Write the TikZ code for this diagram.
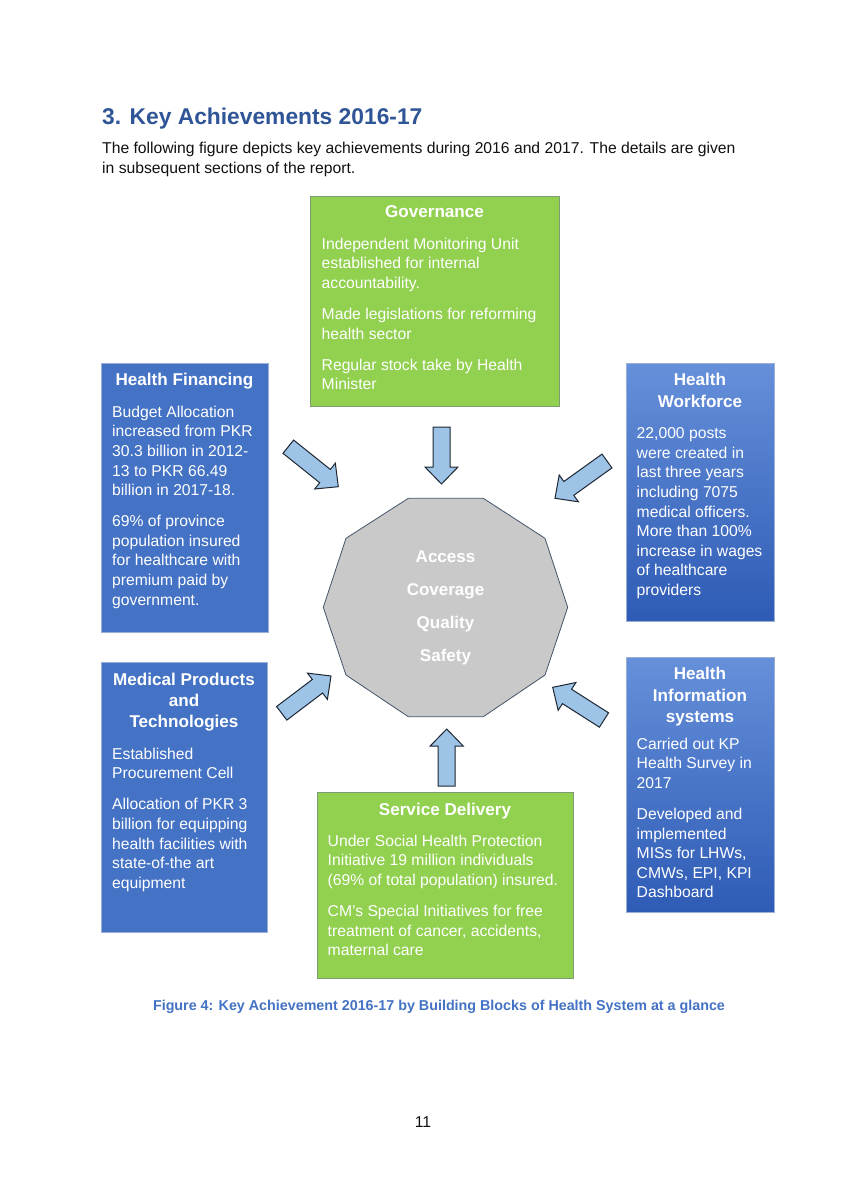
\documentclass[tikz,border=0pt]{standalone}
\usepackage{fontspec}
\setmainfont{Liberation Sans}
\usetikzlibrary{calc}
\definecolor{titleblue}{HTML}{2F5597}
\definecolor{capblue}{HTML}{4472C4}
\definecolor{boxblue}{HTML}{4472C4}
\definecolor{gradtop}{HTML}{6690DA}
\definecolor{gradbot}{HTML}{2E5BB5}
\definecolor{boxgreen}{HTML}{92D050}
\definecolor{greenline}{HTML}{7E9B74}
\definecolor{blueline}{HTML}{9AAFD6}
\definecolor{octfill}{HTML}{C9C9C9}
\definecolor{octline}{HTML}{44546A}
\definecolor{arrfill}{HTML}{9DC3E6}
\definecolor{arrline}{HTML}{1E2733}
\definecolor{bodyblack}{HTML}{111111}
\newcommand\topstrut{\rule{0pt}{14pt}}
\newcommand\blockarrow[3]{%
  \path ($(#2)!17pt!(#1)$) coordinate (#3);
  \draw[blkarr] ($(#1)!8.5pt!90:(#2)$) -- ($(#3)!8.5pt!-90:(#1)$) -- ($(#3)!16.5pt!-90:(#1)$) -- (#2)
     -- ($(#3)!16.5pt!90:(#1)$) -- ($(#3)!8.5pt!90:(#1)$) -- ($(#1)!8.5pt!-90:(#2)$) -- cycle;}
\tikzset{
  boxbase/.style={anchor=north west, inner sep=0pt, outer sep=0pt},
  greenbox/.style={boxbase, draw=greenline, fill=boxgreen, line width=0.8pt},
  bluebox/.style={boxbase, draw=blueline, fill=boxblue, line width=0.6pt},
  gradbox/.style={boxbase, draw=blueline, top color=gradtop, bottom color=gradbot, line width=0.6pt},
  bodytxt/.style={text=white, font=\fontsize{15.7}{19.6}\selectfont, align=left, inner sep=0pt, anchor=north west},
  headtxt/.style={text=white, font=\fontsize{17.1}{21.3}\selectfont\bfseries, align=center, inner sep=0pt, anchor=north},
  coretxt/.style={text=white, font=\fontsize{17}{20}\selectfont\bfseries, inner sep=0pt, anchor=base},
  blkarr/.style={draw=arrline, fill=arrfill, line width=1pt, line join=miter},
}
\begin{document}
\begin{tikzpicture}[x=1pt, y=-1pt]
\useasboundingbox (0,0) rectangle (852,1200);
\fill[white] (0,0) rectangle (852,1200);

% page heading and intro (north anchors sit 14pt above first baseline)
\node[anchor=base west, inner sep=0pt, text=titleblue, font=\fontsize{22.8}{26}\selectfont\bfseries] (heading) at (102,124) {3. Key Achievements 2016-17};
\node[anchor=north west, inner sep=0pt, text=bodyblack, align=left, font=\fontsize{15.7}{20}\selectfont] (intro) at (102,153-14)
  {\topstrut The following figure depicts key achievements during 2016 and 2017. The details are given\\in subsequent sections of the report.};

% central decagon
\draw[fill=octfill, draw=octline, line width=0.8pt]
  (408.3,498.3) -- (483.3,498.3) -- (545,538.3) -- (567.7,607.3) -- (545,675)
  -- (483.3,716.7) -- (408.3,716.7) -- (346,675) -- (323.3,607.3) -- (346,538.3) -- cycle;
\coordinate (core) at (445.5,607.5);
\node[coretxt] (c1) at (445.5,562) {Access};
\node[coretxt] (c2) at (445.5,595) {Coverage};
\node[coretxt] (c3) at (445.5,628) {Quality};
\node[coretxt] (c4) at (445.5,661) {Safety};

% Governance
\node[greenbox, minimum width=249pt, minimum height=210pt] (gov) at (310,196) {};
\node[headtxt] (govh) at (434.5,217-14) {\topstrut Governance};
\node[bodytxt] (govb) at (321.5,249-14) {\topstrut Independent Monitoring Unit\\established for internal\\accountability.\\[11.5pt]Made legislations for reforming\\health sector\\[11.5pt]Regular stock take by Health\\Minister};

% Health Financing
\node[bluebox, minimum width=167pt, minimum height=269pt] (fin) at (101,363) {};
\node[headtxt] (finh) at (184.5,385-14) {\topstrut Health Financing};
\node[bodytxt] (finb) at (112,417-14) {\topstrut Budget Allocation\\increased from PKR\\30.3 billion in 2012-\\13 to PKR 66.49\\billion in 2017-18.\\[11.5pt]69\% of province\\population insured\\for healthcare with\\premium paid by\\government.};

% Health Workforce
\node[gradbox, minimum width=148pt, minimum height=258pt] (wf) at (626,363) {};
\node[headtxt] (wfh) at (700,385.5-14) {\topstrut Health\\Workforce};
\node[bodytxt] (wfb) at (636.5,438.5-14) {\topstrut 22,000 posts\\were created in\\last three years\\including 7075\\medical officers.\\More than 100\%\\increase in wages\\of healthcare\\providers};

% Medical Products and Technologies
\node[bluebox, minimum width=166pt, minimum height=270pt] (med) at (101,662) {};
\node[headtxt] (medh) at (184,685-14) {\topstrut Medical Products\\and\\Technologies};
\node[bodytxt] (medb) at (112,759-14) {\topstrut Established\\Procurement Cell\\[11.5pt]Allocation of PKR 3\\billion for equipping\\health facilities with\\state-of-the art\\equipment};

% Health Information systems
\node[gradbox, minimum width=148pt, minimum height=255pt] (his) at (626,657) {};
\node[headtxt] (hish) at (700,679.5-14) {\topstrut Health\\Information\\systems};
\node[bodytxt] (hisb) at (636.5,749-14) {\topstrut Carried out KP\\Health Survey in\\2017\\[11.5pt]Developed and\\implemented\\MISs for LHWs,\\CMWs, EPI, KPI\\Dashboard};

% Service Delivery
\node[greenbox, minimum width=256pt, minimum height=186pt] (sd) at (317,792) {};
\node[headtxt] (sdh) at (445,815-14) {\topstrut Service Delivery};
\node[bodytxt] (sdb) at (327.5,846-14) {\topstrut Under Social Health Protection\\Initiative 19 million individuals\\(69\% of total population) insured.\\[11.5pt]CM’s Special Initiatives for free\\treatment of cancer, accidents,\\maternal care};

% block arrows (tail, tip, neck name)
\coordinate (a1t) at (441.5,427);   \coordinate (a1h) at (441.5,484);
\coordinate (a2t) at (446.7,786);   \coordinate (a2h) at (446.7,729);
\coordinate (a3t) at (288.3,446.7); \coordinate (a3h) at (338.3,486.7);
\coordinate (a4t) at (607,461);     \coordinate (a4h) at (555,498.3);
\coordinate (a5t) at (281.7,713.3); \coordinate (a5h) at (331,676);
\coordinate (a6t) at (604,720);     \coordinate (a6h) at (552.7,687.3);
\blockarrow{a1t}{a1h}{a1n}
\blockarrow{a2t}{a2h}{a2n}
\blockarrow{a3t}{a3h}{a3n}
\blockarrow{a4t}{a4h}{a4n}
\blockarrow{a5t}{a5h}{a5n}
\blockarrow{a6t}{a6h}{a6n}

% caption and page number
\node[anchor=base, inner sep=0pt, text=capblue, font=\fontsize{14.3}{17}\selectfont\bfseries] (caption) at (439,1010) {Figure 4: Key Achievement 2016-17 by Building Blocks of Health System at a glance};
\node[anchor=base, inner sep=0pt, text=bodyblack, font=\fontsize{15.7}{19}\selectfont] (pageno) at (423,1127) {11};
\end{tikzpicture}
\end{document}
